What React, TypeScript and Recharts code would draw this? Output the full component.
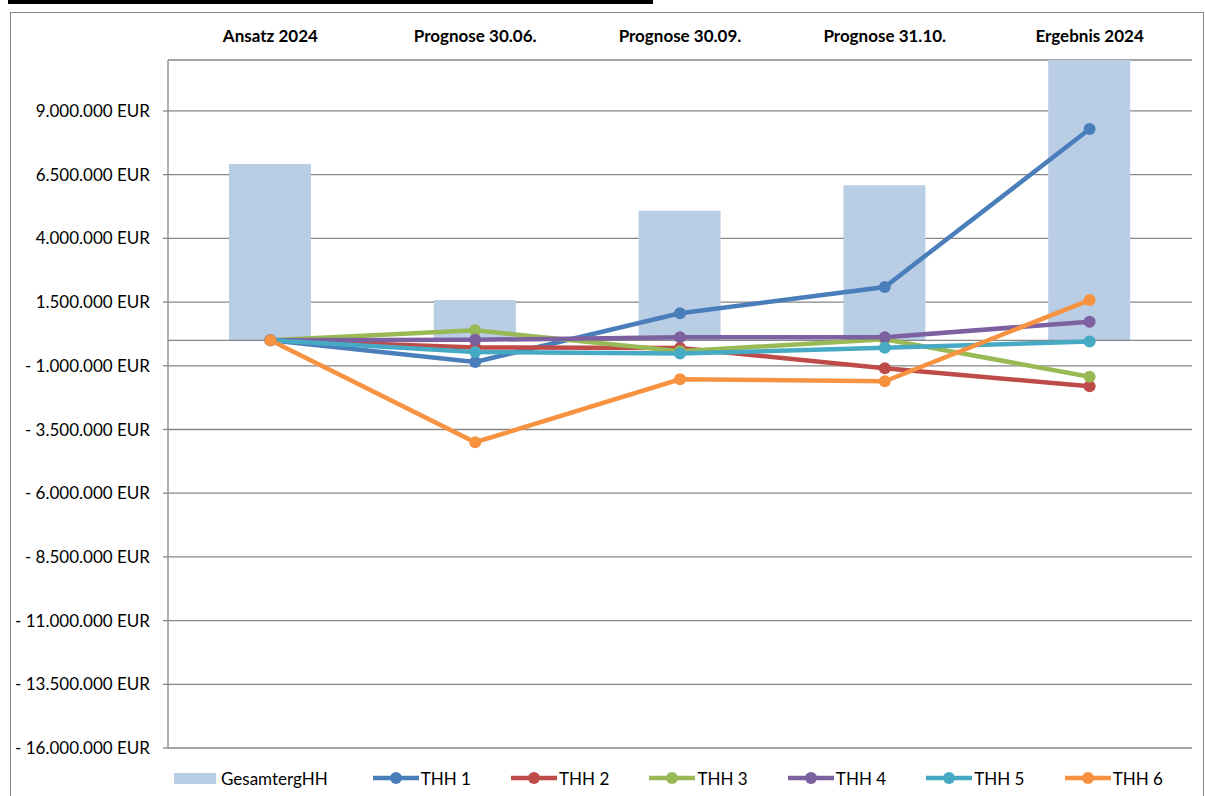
import { ComposedChart, Bar, Line, XAxis, YAxis, CartesianGrid, Legend, ReferenceLine } from 'recharts';

// values (EUR)
const categories = ['Ansatz 2024', 'Prognose 30.06.', 'Prognose 30.09.', 'Prognose 31.10.', 'Ergebnis 2024'];
const gesamtergHH = [6920000, 1580000, 5080000, 6080000, 12000000];
const thh1 = [0, -850000, 1060000, 2090000, 8290000];
const thh2 = [0, -280000, -300000, -1100000, -1800000];
const thh3 = [0, 390000, -430000, 40000, -1430000];
const thh4 = [0, 20000, 120000, 120000, 730000];
const thh5 = [0, -460000, -520000, -290000, -50000];
const thh6 = [0, -4000000, -1530000, -1610000, 1580000];

const yTicks = [
  -16000000, -13500000, -11000000, -8500000, -6000000, -3500000,
  -1000000, 1500000, 4000000, 6500000, 9000000,
];

const seriesNames = ['THH 1', 'THH 2', 'THH 3', 'THH 4', 'THH 5', 'THH 6'];
const seriesValues = [thh1, thh2, thh3, thh4, thh5, thh6];
const seriesColors = ['#4A7EBB', '#BE4B48', '#98B954', '#7D60A0', '#46AAC5', '#F69240'];
const barColor = '#B9CDE5';
const gridColor = '#868686';
const font = 'Lato, "Open Sans", sans-serif';

const data = categories.map((name, i) => {
  const row: Record<string, string | number> = { name, GesamtergHH: gesamtergHH[i] };
  seriesNames.forEach((s, j) => {
    row[s] = seriesValues[j][i];
  });
  return row;
});

const fmtEur = (v: number) =>
  (v < 0 ? '- ' : '') + String(Math.abs(v)).replace(/\B(?=(\d{3})+(?!\d))/g, '.') + ' EUR';

function CategoryTick(props: any) {
  const { x, y, payload } = props;
  return (
    <text x={x} y={y} textAnchor="middle" fontFamily={font} fontSize={17} fontWeight={700} fill="#000">
      {payload.value}
    </text>
  );
}

function LegendContent() {
  return (
    <div style={{ display: 'flex', alignItems: 'center', height: 36, paddingLeft: 163, fontFamily: font, fontSize: 17, color: '#000' }}>
      <div style={{ display: 'flex', alignItems: 'center', width: 201 }}>
        <span style={{ display: 'inline-block', width: 42, height: 11, background: barColor, marginRight: 5 }} />
        <span>GesamtergHH</span>
      </div>
      {seriesNames.map((s, j) => (
        <div key={s} style={{ display: 'flex', alignItems: 'center', width: 140 }}>
          <svg width={46} height={14} style={{ marginRight: 2 }}>
            <line x1={0} y1={7} x2={46} y2={7} stroke={seriesColors[j]} strokeWidth={4.5} />
            <circle cx={23} cy={7} r={6} fill={seriesColors[j]} />
          </svg>
          <span>{s}</span>
        </div>
      ))}
    </div>
  );
}

export default function App() {
  return (
    <div style={{ position: 'absolute', left: 0, top: 0, width: 1205, height: 796, overflow: 'hidden', background: '#fff' }}>
      <div style={{ position: 'absolute', left: 8, top: 0, width: 645, height: 4, background: '#000' }} />
      <div style={{ position: 'absolute', left: 10, top: 12, width: 1192, height: 800, border: `1.5px solid ${gridColor}` }} />
      <div style={{ position: 'absolute', left: 11, top: 13 }}>
        <ComposedChart width={1192} height={783} data={data} margin={{ top: 0, right: 11, left: 0, bottom: 12 }}>
          <CartesianGrid vertical={false} stroke={gridColor} strokeWidth={1.3} />
          <XAxis
            dataKey="name"
            orientation="top"
            height={47}
            axisLine={false}
            tickLine={false}
            tickSize={0}
            tickMargin={18}
            interval={0}
            tick={<CategoryTick />}
          />
          <YAxis
            width={157}
            domain={[-16000000, 11000000]}
            ticks={yTicks}
            allowDataOverflow
            tickFormatter={fmtEur}
            tickSize={5}
            tickMargin={13}
            axisLine={{ stroke: gridColor, strokeWidth: 1.3 }}
            tickLine={{ stroke: gridColor, strokeWidth: 1.3 }}
            tick={{ fontFamily: font, fontSize: 17, fill: '#000' }}
          />
          <ReferenceLine y={0} stroke={gridColor} strokeWidth={1.3} />
          <Bar dataKey="GesamtergHH" fill={barColor} barSize={82} isAnimationActive={false} />
          {seriesNames.map((s, j) => (
            <Line
              key={s}
              dataKey={s}
              type="linear"
              stroke={seriesColors[j]}
              strokeWidth={4.5}
              dot={{ r: 6, fill: seriesColors[j], stroke: seriesColors[j], strokeWidth: 0 }}
              activeDot={false}
              isAnimationActive={false}
            />
          ))}
          <Legend
            verticalAlign="bottom"
            height={36}
            content={<LegendContent />}
            wrapperStyle={{ left: 0, bottom: 0, width: 1192 }}
          />
        </ComposedChart>
      </div>
    </div>
  );
}
